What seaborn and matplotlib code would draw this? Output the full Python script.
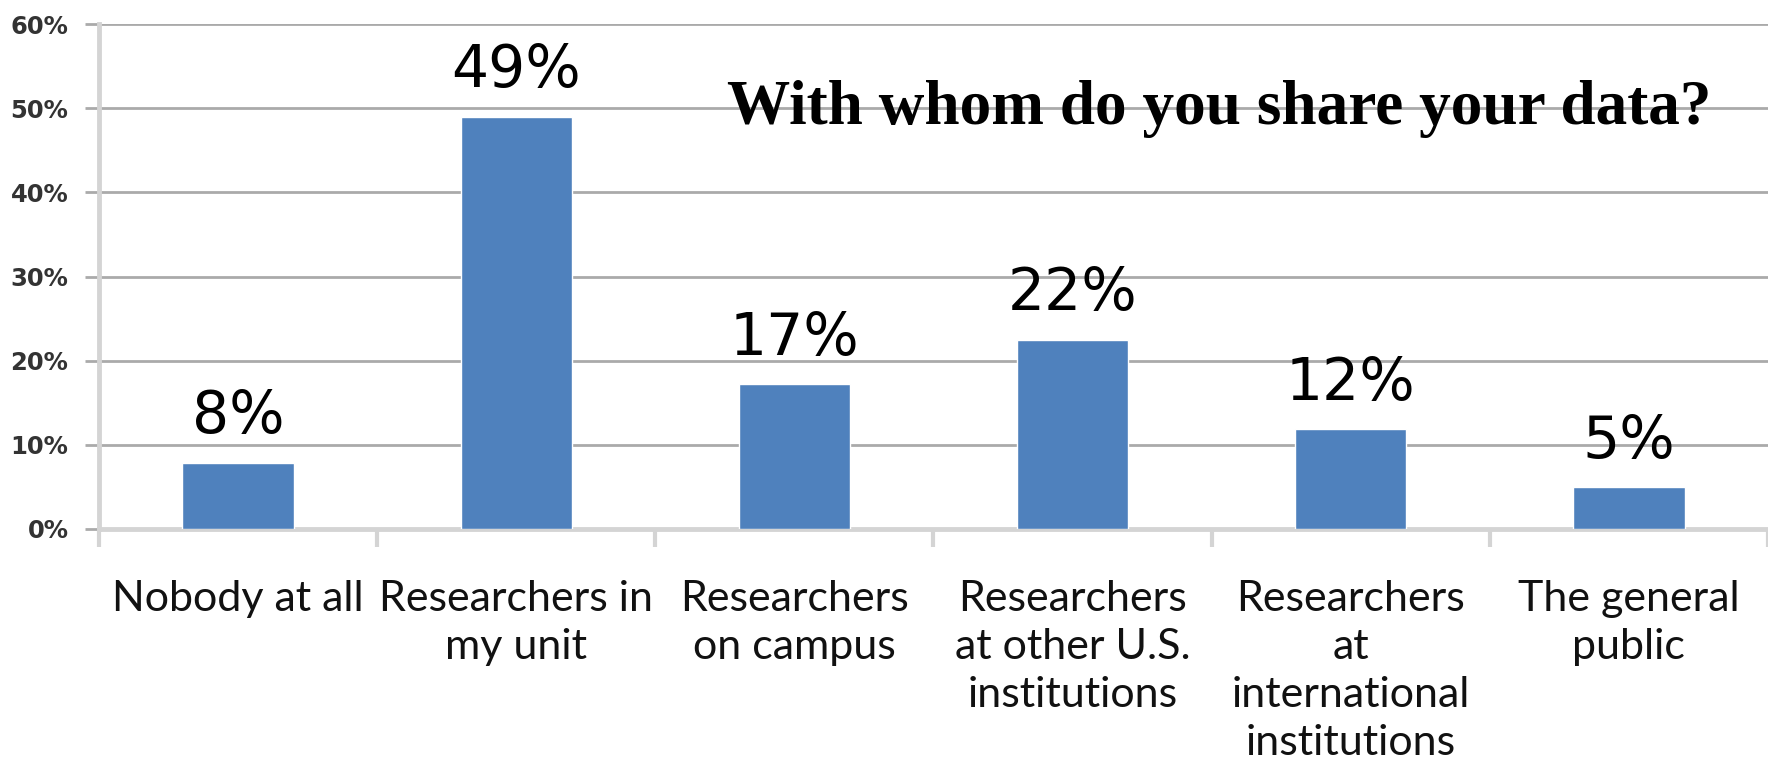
import matplotlib
matplotlib.use("Agg")
import matplotlib.pyplot as plt
import seaborn as sns
import pandas as pd

categories = ["Nobody at all", "Researchers in\nmy unit", "Researchers\non campus",
              "Researchers\nat other U.S.\ninstitutions",
              "Researchers\nat\ninternational\ninstitutions",
              "The general\npublic"]
values = [7.9, 49.0, 17.2, 22.5, 11.9, 5.0]
value_labels = ["8%", "49%", "17%", "22%", "12%", "5%"]
y_ticks = [0, 10, 20, 30, 40, 50, 60]
y_tick_labels = ["0%", "10%", "20%", "30%", "40%", "50%", "60%"]
title = "With whom do you share your data?"

sns.set_theme(style="white")
plt.rcParams['font.family'] = ['DejaVu Sans']

W, H = 1768, 761
fig = plt.figure(figsize=(W / 100, H / 100), dpi=100)
ax = fig.add_axes([99 / W, 1 - 529 / H, 1 - 99 / W, (529 - 24) / H])

df = pd.DataFrame({"cat": categories, "val": values})
sns.barplot(data=df, x="cat", y="val", color="#4F81BD", saturation=1,
            width=0.4, ax=ax, zorder=3)

ax.set_xlim(-0.5, len(categories) - 0.5)
ax.set_ylim(0, 60)
ax.set_xlabel("")
ax.set_ylabel("")

grid_c = "#aaaaaa"
axis_c = "#d4d4d4"
ax.set_yticks(y_ticks)
ax.set_yticklabels(y_tick_labels, fontsize=17.5, fontweight="bold", color="#333333")
ax.yaxis.grid(True, color=grid_c, linewidth=2.0, zorder=0)
ax.tick_params(axis="y", length=10, width=2, color=grid_c, pad=12, left=True)

ax.set_xticks([i - 0.5 for i in range(len(categories) + 1)], minor=False)
ax.set_xticklabels([""] * (len(categories) + 1))
ax.set_xticks(range(len(categories)), minor=True)
ax.set_xticklabels(categories, minor=True, fontsize=31, family="Lato",
                   color="#111111", linespacing=1.32)
ax.tick_params(axis="x", which="major", length=13, width=3, color=axis_c, bottom=True)
ax.tick_params(axis="x", which="minor", length=0, pad=37)

for s in ["top", "right"]:
    ax.spines[s].set_visible(False)
ax.spines["left"].set_color(axis_c)
ax.spines["left"].set_linewidth(3.5)
ax.spines["bottom"].set_color(axis_c)
ax.spines["bottom"].set_linewidth(3.5)
ax.spines["left"].set_zorder(4)

for i, (v, lab) in enumerate(zip(values, value_labels)):
    ax.annotate(lab, xy=(i, v), xytext=(0, 21), textcoords="offset points",
                ha="center", va="baseline", fontsize=42, color="black")

fig.text(727 / W, 1 - 124 / H, title, ha="left", va="baseline",
         fontsize=45.5, fontweight="bold", family="Liberation Serif", color="black")

fig.savefig("out.png", dpi=100, facecolor="white")
